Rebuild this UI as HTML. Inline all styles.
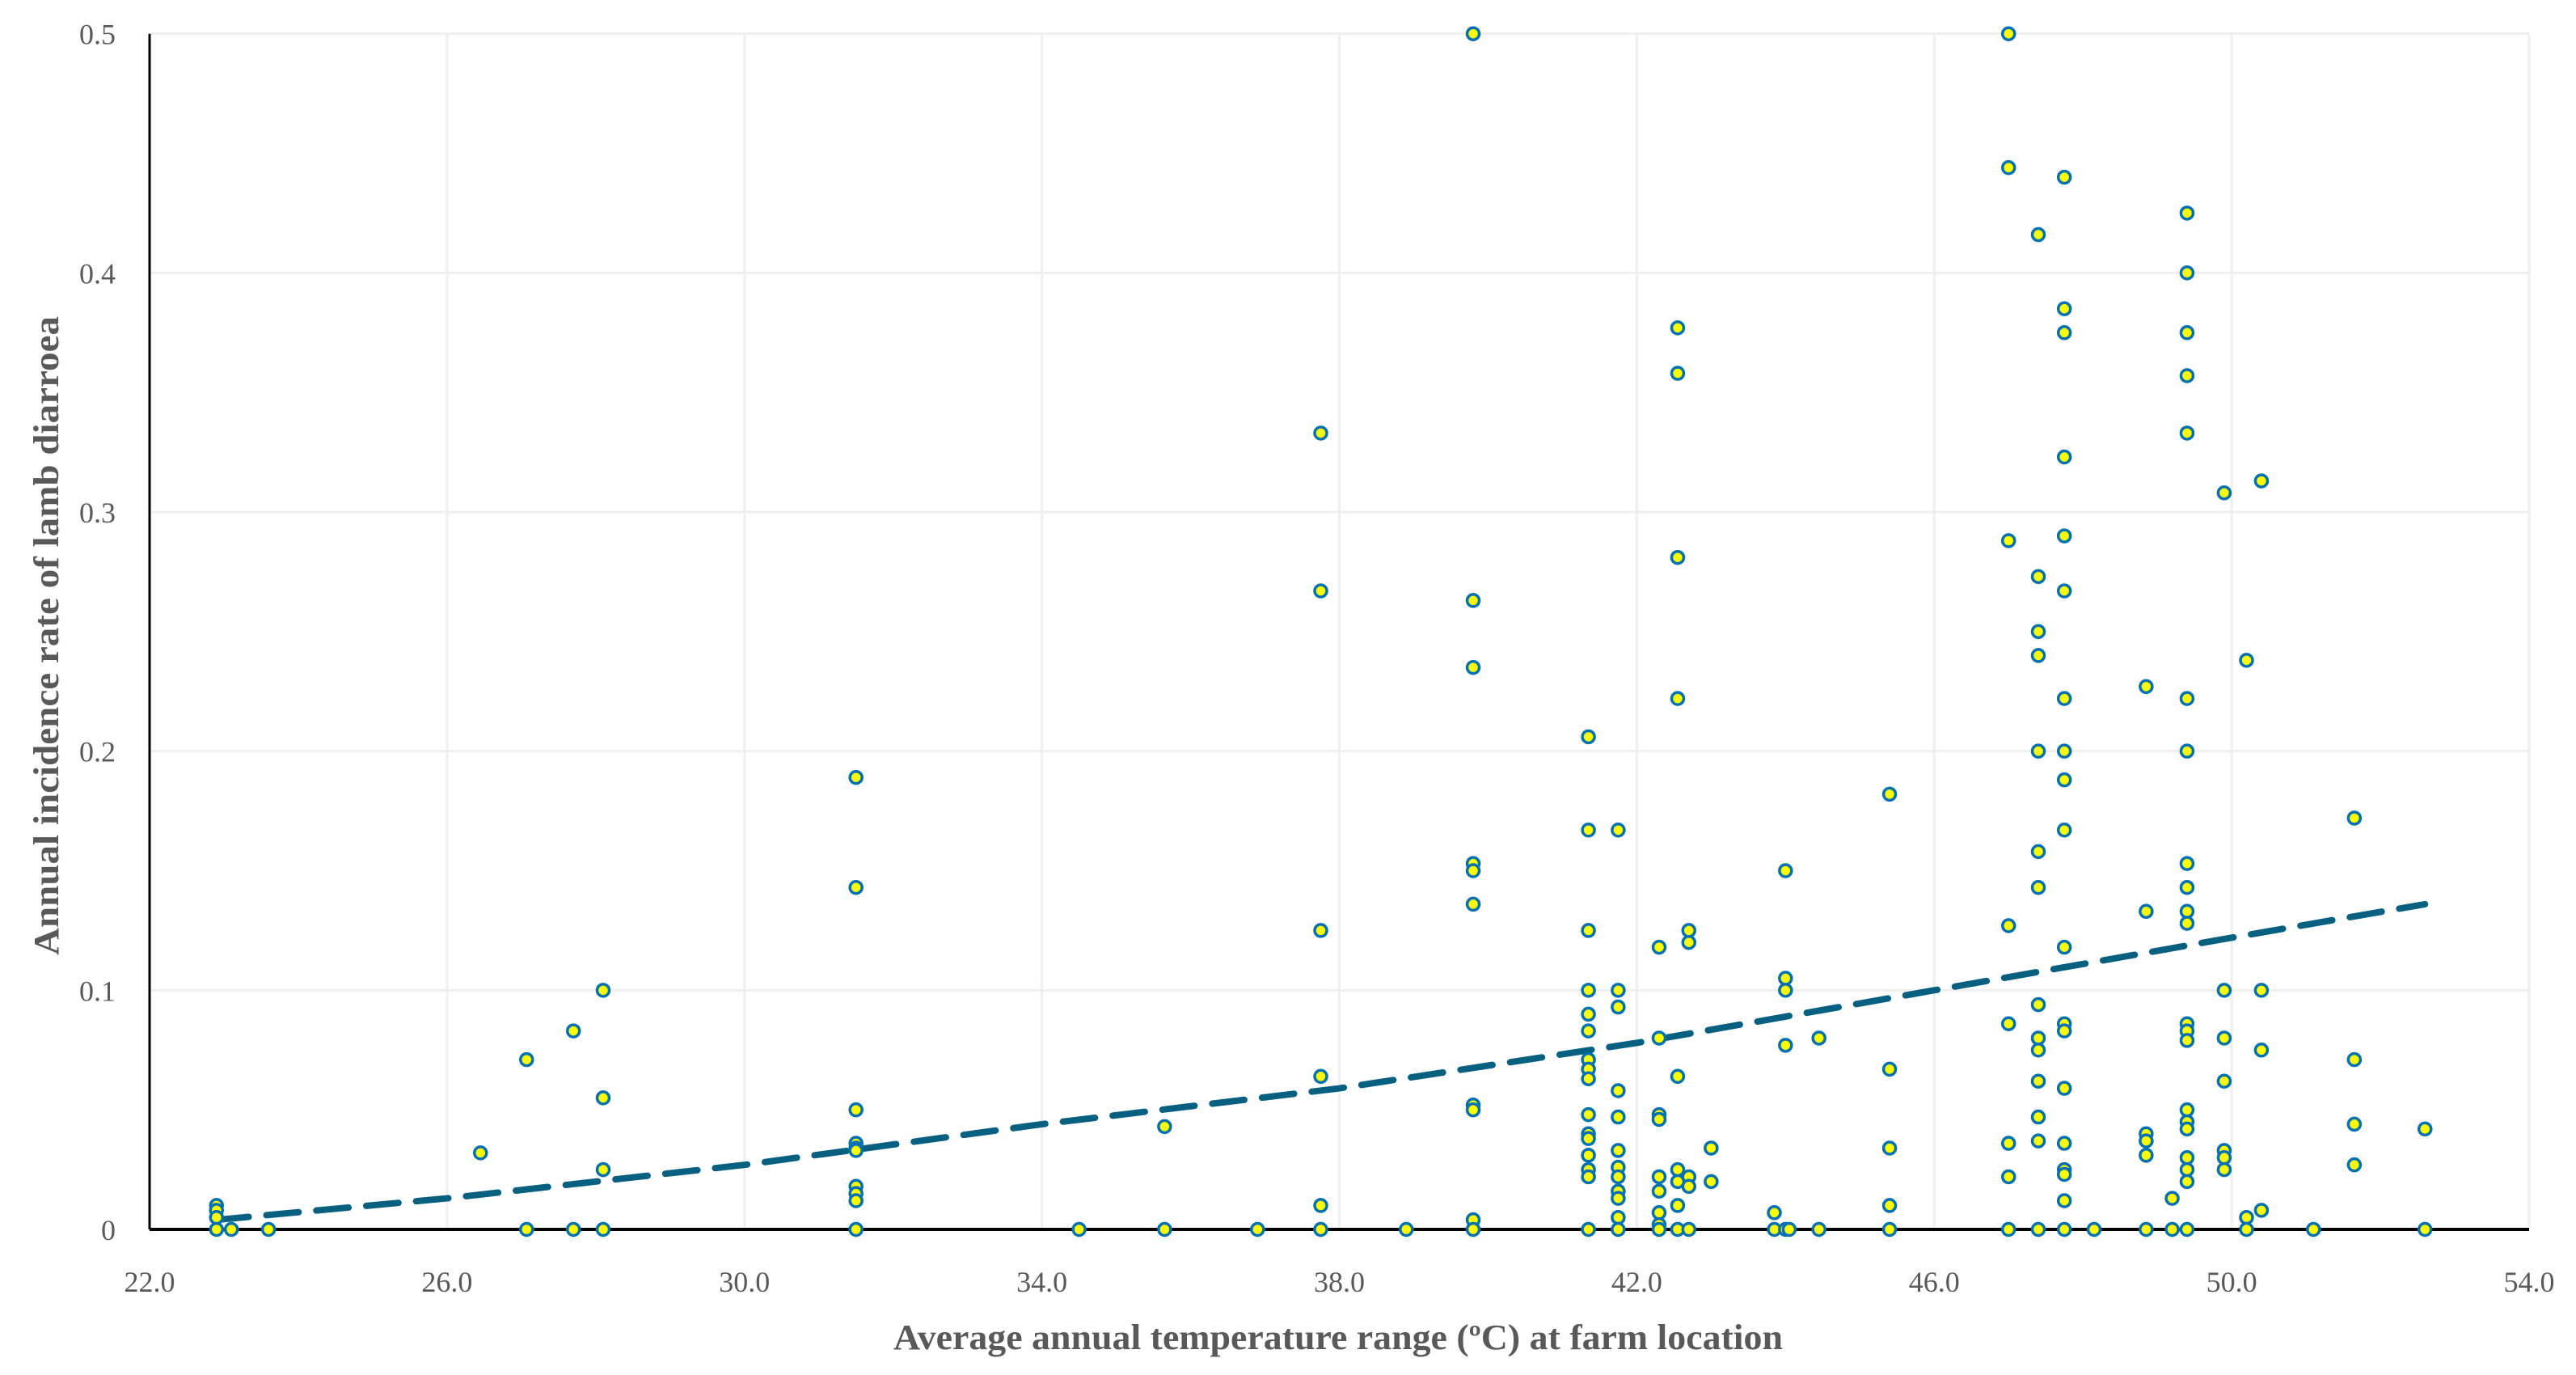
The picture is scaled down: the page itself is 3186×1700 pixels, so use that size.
<!DOCTYPE html>
<html><head><meta charset="utf-8"><style>
html,body{margin:0;padding:0;background:#fff;}
svg{display:block;}
text{font-family:"Liberation Serif",serif;fill:#595959;}
</style></head><body>
<svg id="chart" width="3186" height="1700" viewBox="0 0 3186 1700" xmlns="http://www.w3.org/2000/svg">
<g id="grid"></g>
<g id="trend"></g>
<g id="axes"></g>
<g id="pts"></g>
<g id="labels"></g>
<text x="1655" y="1668" text-anchor="middle" font-size="44" font-weight="bold" textLength="1100" lengthAdjust="spacingAndGlyphs">Average annual temperature range (ºC) at farm location</text>
<text transform="translate(72,786) rotate(-90)" text-anchor="middle" font-size="44" font-weight="bold" textLength="790" lengthAdjust="spacingAndGlyphs">Annual incidence rate of lamb diarroea</text>
</svg>
<script>
const xTicks=[22,26,30,34,38,42,46,50,54];
const xTickLabels=["22.0","26.0","30.0","34.0","38.0","42.0","46.0","50.0","54.0"];
const yTicks=[0,0.1,0.2,0.3,0.4,0.5];
const yTickLabels=["0","0.1","0.2","0.3","0.4","0.5"];
const colX=[22.9,23.1,23.6,26.45,27.07,27.7,28.1,31.5,34.5,35.65,36.9,37.75,38.9,39.8,41.35,41.75,42.3,42.55,42.7,43.0,43.85,44.0,44.05,44.45,45.4,47.0,47.4,47.75,48.15,48.85,49.2,49.4,49.9,50.2,50.4,51.1,51.65,52.6];
const colY=[
[0.010,0.008,0.005,0],[0],[0],[0.032],[0.071,0],[0.083,0],[0.1,0.055,0.025,0],
[0.189,0.143,0.050,0.036,0.034,0.033,0.018,0.015,0.012,0],[0],[0.043,0],[0],
[0.333,0.267,0.125,0.064,0.010,0],[0],
[0.5,0.263,0.235,0.153,0.150,0.136,0.052,0.050,0.004,0],
[0.206,0.167,0.125,0.1,0.090,0.083,0.071,0.067,0.063,0.048,0.040,0.038,0.031,0.025,0.022,0],
[0.167,0.1,0.093,0.058,0.047,0.033,0.026,0.022,0.016,0.013,0.005,0],
[0.118,0.080,0.048,0.046,0.022,0.016,0.007,0.002,0],
[0.377,0.358,0.281,0.222,0.064,0.025,0.020,0.010,0],
[0.125,0.120,0.022,0.018,0],[0.034,0.020],[0.007,0],[0.150,0.105,0.100,0.077,0],[0],[0.080,0],
[0.182,0.067,0.034,0.010,0],
[0.5,0.444,0.288,0.127,0.086,0.036,0.022,0],
[0.416,0.273,0.250,0.240,0.200,0.158,0.143,0.094,0.080,0.075,0.062,0.047,0.037,0],
[0.440,0.385,0.375,0.323,0.290,0.267,0.222,0.200,0.188,0.167,0.118,0.086,0.083,0.059,0.036,0.025,0.023,0.012,0],
[0],[0.227,0.133,0.040,0.037,0.031,0],[0.013,0],
[0.425,0.400,0.375,0.357,0.333,0.222,0.200,0.153,0.143,0.133,0.128,0.086,0.083,0.079,0.050,0.045,0.042,0.030,0.025,0.020,0],
[0.308,0.100,0.080,0.062,0.033,0.030,0.025],[0.238,0.005,0],[0.313,0.100,0.075,0.008],[0],
[0.172,0.071,0.044,0.027],[0.042,0]];
const trendX=[22.9,26,30,34,38,42,46,50,52.6];
const trendY=[0.004,0.013,0.027,0.044,0.059,0.078,0.100,0.122,0.136];

const L=185,R=3128,T=41.7,B=1520,X0=22,X1=54,Y0=0,Y1=0.5;
const sx=v=>L+(v-X0)/(X1-X0)*(R-L);
const sy=v=>B-(v-Y0)/(Y1-Y0)*(B-T);
const NS="http://www.w3.org/2000/svg";
function mk(tag,parent,attrs){const e=document.createElementNS(NS,tag);for(const k in attrs)e.setAttribute(k,attrs[k]);parent.appendChild(e);return e;}
const grid=document.getElementById('grid'),axes=document.getElementById('axes'),pts=document.getElementById('pts'),labels=document.getElementById('labels'),trend=document.getElementById('trend');
xTicks.forEach((t,i)=>{
  if(i>0){const g=mk('line',grid,{x1:sx(t),x2:sx(t),y1:T,y2:B,stroke:'#efefef','stroke-width':3});
  
  }
  const tx=mk('text',labels,{x:sx(t),y:1597,'text-anchor':'middle','font-size':36});
  tx.textContent=xTickLabels[i];
  
  
});
yTicks.forEach((t,i)=>{
  if(i>0){const g=mk('line',grid,{x1:L,x2:R,y1:sy(t),y2:sy(t),stroke:'#efefef','stroke-width':3});
  
  }
  const tx=mk('text',labels,{x:143,y:sy(t)+13,'text-anchor':'end','font-size':36});
  tx.textContent=yTickLabels[i];
  
  
});
const ya=mk('line',axes,{x1:L,x2:L,y1:T,y2:B,stroke:'#000','stroke-width':3});


const xa=mk('line',axes,{x1:L,x2:R,y1:B,y2:B,stroke:'#000','stroke-width':4});


let d='';trendX.forEach((x,i)=>{d+=(i?'L':'M')+sx(x)+','+sy(trendY[i]);});
const tp=mk('path',trend,{d:d,fill:'none',stroke:'#07607f','stroke-width':8,'stroke-dasharray':'40 22','stroke-linecap':'round'});


colX.forEach((x,i)=>{colY[i].forEach(y=>{
  const c=mk('circle',pts,{cx:sx(x),cy:sy(y),r:7.5,fill:'#ffff00',stroke:'#0070b0','stroke-width':3.5});
  
  
});});
</script>
</body></html>
